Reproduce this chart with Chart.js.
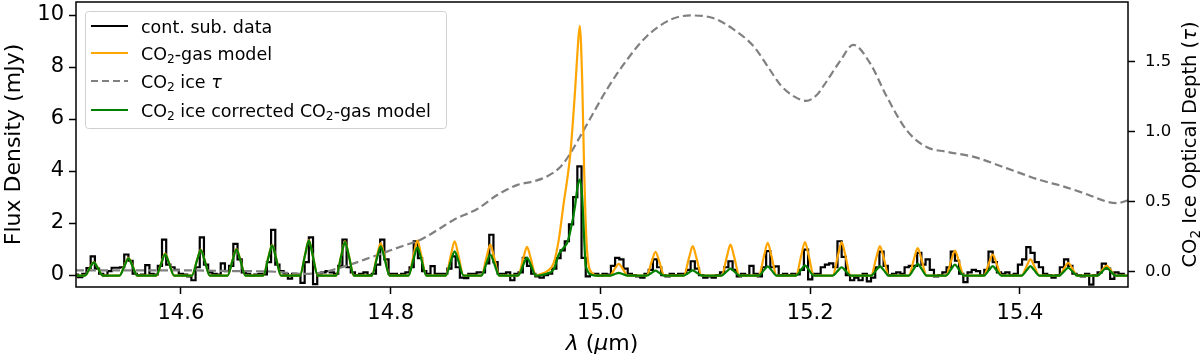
<!DOCTYPE html>
<html>
<head>
<meta charset="utf-8">
<script src="https://cdn.jsdelivr.net/npm/chart.js@4.4.1/dist/chart.umd.min.js"></script>
<style>
  body { margin: 0; background: #fff; }
  canvas { display: block; }
</style>
</head>
<body>
<canvas id="spectrum" width="1200" height="358"></canvas>
<script>
// ---- continuum subtracted data (step plot) ----
const dataWl = [
  14.500,14.504,14.508,14.512,14.516,14.520,14.524,14.528,14.532,14.536,
  14.540,14.544,14.548,14.552,14.556,14.560,14.564,14.568,14.572,14.576,
  14.580,14.584,14.588,14.592,14.596,14.600,14.604,14.608,14.612,14.616,
  14.620,14.624,14.628,14.632,14.636,14.640,14.644,14.648,14.652,14.656,
  14.660,14.664,14.668,14.672,14.676,14.680,14.684,14.688,14.692,14.696,
  14.700,14.704,14.708,14.712,14.716,14.720,14.724,14.728,14.732,14.736,
  14.740,14.744,14.748,14.752,14.756,14.760,14.764,14.768,14.772,14.776,
  14.780,14.784,14.788,14.792,14.796,14.800,14.804,14.808,14.812,14.816,
  14.820,14.824,14.828,14.832,14.836,14.840,14.844,14.848,14.852,14.856,
  14.860,14.864,14.868,14.872,14.876,14.880,14.884,14.888,14.892,14.896,
  14.900,14.904,14.908,14.912,14.916,14.920,14.924,14.928,14.932,14.936,
  14.940,14.944,14.948,14.952,14.956,14.960,14.964,14.968,14.972,14.976,
  14.980,14.984,14.988,14.992,14.996,15.000,15.004,15.008,15.012,15.016,
  15.020,15.024,15.028,15.032,15.036,15.040,15.044,15.048,15.052,15.056,
  15.060,15.064,15.068,15.072,15.076,15.080,15.084,15.088,15.092,15.096,
  15.100,15.104,15.108,15.112,15.116,15.120,15.124,15.128,15.132,15.136,
  15.140,15.144,15.148,15.152,15.156,15.160,15.164,15.168,15.172,15.176,
  15.180,15.184,15.188,15.192,15.196,15.200,15.204,15.208,15.212,15.216,
  15.220,15.224,15.228,15.232,15.236,15.240,15.244,15.248,15.252,15.256,
  15.260,15.264,15.268,15.272,15.276,15.280,15.284,15.288,15.292,15.296,
  15.300,15.304,15.308,15.312,15.316,15.320,15.324,15.328,15.332,15.336,
  15.340,15.344,15.348,15.352,15.356,15.360,15.364,15.368,15.372,15.376,
  15.380,15.384,15.388,15.392,15.396,15.400,15.404,15.408,15.412,15.416,
  15.420,15.424,15.428,15.432,15.436,15.440,15.444,15.448,15.452,15.456,
  15.460,15.464,15.468,15.472,15.476,15.480,15.484,15.488,15.492,15.496,
  15.500
];
const dataFlux = [
  0.02, -0.08, 0.05, 0.27, 0.72, 0.25, 0.05, -0.02, 0.15, 0.28,
  0.28, 0.3, 0.79, 0.55, 0.05, 0.0, 0.02, 0.38, 0.05, 0.02,
  0.35, 1.36, 0.4, 0.3, 0.2, 0.05, 0.02, -0.05, -0.2, 0.3,
  1.45, 0.4, 0.1, 0.05, 0.02, 0.45, 0.15, 0.35, 1.2, 0.6,
  0.1, 0.05, -0.02, 0.02, 0.05, 0.02, 0.5, 1.74, 0.4, 0.15,
  0.05, -0.14, 0.05, 0.0, -0.3, 0.5, 1.45, -0.35, 0.05, 0.1,
  0.15, 0.1, 0.05, 0.35, 1.36, 0.3, 0.1, 0.0, 0.05, 0.1,
  0.0, 0.05, 0.4, 1.36, 0.6, 0.05, 0.05, 0.0, 0.05, 0.1,
  0.3, 1.3, 0.65, 0.15, 0.05, 0.34, 0.05, 0.05, 0.05, 0.25,
  0.72, 0.3, -0.1, -0.12, 0.05, 0.05, 0.1, 0.1, 0.45, 1.55,
  0.5, 0.05, 0.05, 0.1, -0.2, 0.05, 0.1, 0.66, 0.35, 0.05,
  -0.05, -0.1, 0.0, 0.05, 0.25, 0.65, 0.95, 1.3, 1.95, 3.0,
  4.18, 0.66, -0.05, 0.02, 0.05, -0.02, 0.05, 0.02, 0.35, 0.66,
  0.6, 0.25, 0.05, 0.0, -0.05, -0.1, 0.05, 0.2, 0.6, 0.3,
  0.0, -0.05, 0.05, 0.0, 0.05, 0.05, 0.2, 0.53, 0.25, 0.0,
  -0.1, -0.05, -0.1, 0.0, 0.1, 0.3, 0.53, 0.2, -0.05, 0.05,
  0.0, 0.35, 0.05, -0.05, 0.3, 0.92, 0.3, 0.33, 0.0, 0.05,
  0.0, 0.05, 0.02, 0.2, 0.98, -0.17, 0.05, 0.05, 0.3, 0.4,
  0.45, 0.3, 1.3, 0.7, 0.0, -0.2, -0.1, -0.2, 0.05, -0.24,
  -0.1, 0.3, 0.9, 0.35, 0.0, 0.05, 0.1, 0.05, 0.3, 0.35,
  0.35, 0.85, 0.4, 0.6, 0.2, -0.05, 0.0, 0.1, 0.3, 0.9,
  0.55, 0.05, -0.27, 0.1, 0.2, 0.15, 0.0, 0.2, 0.9, 0.5,
  0.1, 0.05, 0.1, 0.0, 0.05, 0.4, 0.6, 1.07, 0.85, 0.5,
  0.3, 0.05, 0.0, -0.1, 0.0, 0.3, 0.6, 0.35, 0.05, 0.0,
  -0.05, 0.05, -0.37, 0.0, 0.1, 0.44, 0.25, -0.15, 0.1, 0.05,
  0.05
];

// ---- gas model and ice corrected model (shared wavelength points) ----
const modelWl = [
  14.500,
  14.5085, 14.5135, 14.517, 14.5205, 14.5255,
  14.5415, 14.5465, 14.550, 14.5535, 14.5585,
  14.5765, 14.5815, 14.585, 14.5885, 14.5935,
  14.6105, 14.6155, 14.619, 14.6225, 14.6275,
  14.6445, 14.6495, 14.653, 14.6565, 14.6615,
  14.6785, 14.6835, 14.687, 14.6905, 14.6955,
  14.7135, 14.7185, 14.722, 14.7255, 14.7305,
  14.748, 14.753, 14.7565, 14.760, 14.765,
  14.782, 14.787, 14.7905, 14.794, 14.799,
  14.817, 14.822, 14.8255, 14.829, 14.834,
  14.8525, 14.8575, 14.861, 14.8645, 14.8695,
  14.8865, 14.8915, 14.895, 14.8985, 14.9035,
  14.9215, 14.9265, 14.930, 14.9335, 14.9385,
  14.944, 14.949, 14.9555, 14.9603, 14.965, 14.9683, 14.9714, 14.976, 14.978,
  14.9803, 14.9826, 14.9845, 14.9857, 14.9873, 14.9889, 14.992, 14.996,
  15.009, 15.014, 15.0175, 15.021, 15.026,
  15.044, 15.049, 15.0525, 15.056, 15.061,
  15.0795, 15.0845, 15.088, 15.0915, 15.0965,
  15.1155, 15.1205, 15.124, 15.1275, 15.1325,
  15.151, 15.156, 15.1595, 15.163, 15.168,
  15.1865, 15.1915, 15.195, 15.1985, 15.2035,
  15.2215, 15.2265, 15.230, 15.2335, 15.2385,
  15.258, 15.263, 15.2665, 15.270, 15.275,
  15.294, 15.299, 15.3025, 15.306, 15.311,
  15.3295, 15.3345, 15.338, 15.3415, 15.3465,
  15.3655, 15.3705, 15.374, 15.3775, 15.3825,
  15.4015, 15.4065, 15.410, 15.4135, 15.4185,
  15.4375, 15.4425, 15.446, 15.4495, 15.4545,
  15.474, 15.479, 15.4825, 15.486, 15.491,
  15.503
];
const gasFlux = [
  -0.02,
  -0.02, 0.30, 0.50, 0.30, -0.02,
  -0.02, 0.40, 0.66, 0.40, -0.02,
  -0.02, 0.49, 0.82, 0.49, -0.02,
  -0.02, 0.59, 0.98, 0.59, -0.02,
  -0.02, 0.61, 1.01, 0.61, -0.02,
  -0.02, 0.70, 1.16, 0.70, -0.02,
  -0.02, 0.80, 1.34, 0.80, -0.02,
  -0.02, 0.78, 1.30, 0.78, -0.02,
  -0.02, 0.74, 1.23, 0.74, -0.02,
  -0.02, 0.79, 1.32, 0.79, -0.02,
  -0.02, 0.78, 1.30, 0.78, -0.02,
  -0.02, 0.70, 1.17, 0.70, -0.02,
  -0.02, 0.65, 1.08, 0.65, -0.02,
  0.05, 0.14, 0.47, 1.36, 2.77, 3.67, 4.7, 7.2, 8.5,
  9.58, 7.5, 4.0, 2.3, 0.9, 0.34, 0.08, -0.02,
  -0.02, 0.26, 0.43, 0.26, -0.02,
  -0.02, 0.53, 0.89, 0.53, -0.02,
  -0.02, 0.67, 1.11, 0.67, -0.02,
  -0.02, 0.70, 1.17, 0.70, -0.02,
  -0.02, 0.74, 1.24, 0.74, -0.02,
  -0.02, 0.76, 1.27, 0.76, -0.02,
  -0.02, 0.76, 1.27, 0.76, -0.02,
  -0.02, 0.67, 1.11, 0.67, -0.02,
  -0.02, 0.62, 1.04, 0.62, -0.02,
  -0.02, 0.56, 0.94, 0.56, -0.02,
  -0.02, 0.47, 0.79, 0.47, -0.02,
  -0.02, 0.36, 0.60, 0.36, -0.02,
  -0.02, 0.28, 0.47, 0.28, -0.02,
  -0.02, 0.22, 0.36, 0.22, -0.02,
  -0.02
];
const corrFlux = [
  -0.02,
  -0.02, 0.29, 0.49, 0.29, -0.02,
  -0.02, 0.38, 0.64, 0.38, -0.02,
  -0.02, 0.48, 0.80, 0.48, -0.02,
  -0.02, 0.58, 0.96, 0.58, -0.02,
  -0.02, 0.59, 0.99, 0.59, -0.02,
  -0.02, 0.68, 1.14, 0.68, -0.02,
  -0.02, 0.79, 1.32, 0.79, -0.02,
  -0.02, 0.76, 1.27, 0.76, -0.02,
  -0.02, 0.66, 1.10, 0.66, -0.02,
  -0.02, 0.64, 1.06, 0.64, -0.02,
  -0.02, 0.55, 0.91, 0.55, -0.02,
  -0.02, 0.47, 0.79, 0.47, -0.02,
  -0.02, 0.40, 0.66, 0.40, -0.02,
  0.0, 0.05, 0.22, 0.79, 1.05, 1.24, 1.7, 2.7, 3.35,
  3.67, 3.0, 1.4, 0.47, 0.2, 0.08, 0.0, -0.02,
  -0.02, 0.04, 0.08, 0.04, -0.02,
  -0.02, 0.09, 0.17, 0.09, -0.02,
  -0.02, 0.10, 0.18, 0.10, -0.02,
  -0.02, 0.14, 0.25, 0.14, -0.02,
  -0.02, 0.19, 0.33, 0.19, -0.02,
  -0.02, 0.21, 0.37, 0.21, -0.02,
  -0.02, 0.17, 0.30, 0.17, -0.02,
  -0.02, 0.19, 0.34, 0.19, -0.02,
  -0.02, 0.25, 0.43, 0.25, -0.02,
  -0.02, 0.23, 0.40, 0.23, -0.02,
  -0.02, 0.19, 0.34, 0.19, -0.02,
  -0.02, 0.19, 0.34, 0.19, -0.02,
  -0.02, 0.16, 0.28, 0.16, -0.02,
  -0.02, 0.16, 0.28, 0.16, -0.02,
  -0.02
];

// ---- CO2 ice optical depth (right axis) ----
const tauWl = [
  14.500, 14.550, 14.600, 14.650, 14.690, 14.715, 14.735, 14.750, 14.765, 14.780,
  14.795, 14.810, 14.829, 14.845, 14.860, 14.883, 14.902, 14.921, 14.936, 14.949,
  14.962, 14.970, 14.984, 15.006, 15.025, 15.044, 15.067, 15.086, 15.108, 15.127,
  15.146, 15.160, 15.172, 15.185, 15.196, 15.206, 15.213, 15.229, 15.241, 15.257,
  15.273, 15.292, 15.311, 15.330, 15.356, 15.387, 15.419, 15.441, 15.465, 15.483,
  15.492, 15.503
];
const tauVal = [
  0.01, 0.01, 0.01, 0.005, 0.0, -0.015, -0.005, 0.025, 0.06, 0.10,
  0.14, 0.18, 0.23, 0.30, 0.37, 0.45, 0.55, 0.62, 0.645, 0.68,
  0.75, 0.83, 1.01, 1.30, 1.51, 1.68, 1.80, 1.83, 1.81, 1.73,
  1.61, 1.46, 1.33, 1.25, 1.22, 1.26, 1.33, 1.51, 1.62, 1.49,
  1.25, 1.01, 0.89, 0.857, 0.82, 0.74, 0.655, 0.61, 0.55, 0.50,
  0.49, 0.51
];

const xTicks = [14.6, 14.8, 15.0, 15.2, 15.4];
const fluxTicks = [0, 2, 4, 6, 8, 10];
const tauTicks = [0, 0.5, 1.0, 1.5];

const FONT = '"DejaVu Sans"';
const pts = (xs, ys) => xs.map((x, i) => ({ x: x, y: ys[i] }));

// mixed text: ['text', ''] normal, 'i' italic, 's' subscript
function drawRich(ctx, parts, x, y, size, align) {
  const fontOf = (k) => (k === 'i' ? 'italic ' : '') + (k === 's' ? size * 0.7 : size) + 'px ' + FONT;
  let total = 0;
  parts.forEach(([t, k]) => { ctx.font = fontOf(k); total += ctx.measureText(t).width; });
  let cx = align === 'center' ? x - total / 2 : x;
  ctx.textAlign = 'left';
  ctx.textBaseline = 'alphabetic';
  parts.forEach(([t, k]) => {
    ctx.font = fontOf(k);
    ctx.fillText(t, cx, k === 's' ? y + size * 0.2 : y);
    cx += ctx.measureText(t).width;
  });
}

const legendRows = [
  { color: '#000000', dash: [], parts: [['cont. sub. data', '']] },
  { color: '#ffa500', dash: [], parts: [['CO', ''], ['2', 's'], ['-gas model', '']] },
  { color: '#808080', dash: [7, 4], parts: [['CO', ''], ['2', 's'], [' ice ', ''], ['τ', 'i']] },
  { color: '#008000', dash: [], parts: [['CO', ''], ['2', 's'], [' ice corrected CO', ''], ['2', 's'], ['-gas model', '']] }
];

const decor = {
  id: 'decor',
  afterDraw(chart) {
    const ctx = chart.ctx;
    const a = chart.chartArea;
    ctx.save();
    // frame
    ctx.strokeStyle = '#000';
    ctx.lineWidth = 1.5;
    ctx.strokeRect(a.left, a.top, a.right - a.left, a.bottom - a.top);

    // legend box
    ctx.fillStyle = 'rgba(255,255,255,0.8)';
    ctx.strokeStyle = '#d0d0d0';
    ctx.lineWidth = 1;
    ctx.beginPath();
    ctx.roundRect(85.5, 11.5, 361, 117, 3);
    ctx.fill();
    ctx.stroke();
    const rowY = [26, 53, 81, 110];
    legendRows.forEach((r, i) => {
      ctx.strokeStyle = r.color;
      ctx.lineWidth = 2.2;
      ctx.setLineDash(r.dash);
      ctx.beginPath();
      ctx.moveTo(91, rowY[i]);
      ctx.lineTo(128, rowY[i]);
      ctx.stroke();
      ctx.setLineDash([]);
      ctx.fillStyle = '#000';
      drawRich(ctx, r.parts, 141, rowY[i] + 6.5, 17.5, 'left');
    });

    // axis titles
    ctx.fillStyle = '#000';
    drawRich(ctx, [['λ', 'i'], [' (', ''], ['μ', 'i'], ['m)', '']], (a.left + a.right) / 2, 350, 22, 'center');

    ctx.save();
    ctx.translate(20, (a.top + a.bottom) / 2);
    ctx.rotate(-Math.PI / 2);
    drawRich(ctx, [['Flux Density (mJy)', '']], 0, 0, 22, 'center');
    ctx.restore();

    ctx.save();
    ctx.translate(1196, (a.top + a.bottom) / 2);
    ctx.rotate(-Math.PI / 2);
    drawRich(ctx, [['CO', ''], ['2', 's'], [' Ice Optical Depth (', ''], ['τ', 'i'], [')', '']], 0, 0, 19.5, 'center');
    ctx.restore();

    ctx.restore();
  }
};

const tickGrid = { drawOnChartArea: false, drawTicks: true, tickLength: 7, tickWidth: 1.5, tickColor: '#000' };
const noPad = (s) => { s.paddingTop = 0; s.paddingBottom = 0; s.paddingLeft = 0; s.paddingRight = 0; };

new Chart(document.getElementById('spectrum'), {
  type: 'line',
  data: {
    datasets: [
      {
        label: 'CO2 ice corrected CO2-gas model',
        data: pts(modelWl, corrFlux),
        borderColor: '#008000', borderWidth: 2.2, pointRadius: 0,
        cubicInterpolationMode: 'monotone', yAxisID: 'y', order: 0
      },
      {
        label: 'CO2-gas model',
        data: pts(modelWl, gasFlux),
        borderColor: '#ffa500', borderWidth: 2.2, pointRadius: 0,
        cubicInterpolationMode: 'monotone', yAxisID: 'y', order: 1
      },
      {
        label: 'CO2 ice tau',
        data: pts(tauWl, tauVal),
        borderColor: '#808080', borderWidth: 2.2, borderDash: [8, 4], pointRadius: 0,
        cubicInterpolationMode: 'monotone', yAxisID: 'y2', order: 2
      },
      {
        label: 'cont. sub. data',
        data: pts(dataWl, dataFlux),
        borderColor: '#000000', borderWidth: 2.2, pointRadius: 0,
        stepped: 'middle', yAxisID: 'y', order: 3
      }
    ]
  },
  options: {
    responsive: false,
    animation: false,
    devicePixelRatio: 1,
    layout: { padding: { top: 2, left: 0, right: 0, bottom: 0 } },
    plugins: { legend: { display: false }, tooltip: { enabled: false } },
    scales: {
      x: {
        type: 'linear', position: 'bottom', min: 14.5, max: 15.503,
        afterBuildTicks: (s) => { s.ticks = xTicks.map(v => ({ value: v })); },
        afterFit: (s) => { s.height = 71; noPad(s); },
        ticks: { color: '#000', font: { family: 'DejaVu Sans', size: 21 }, padding: 7, maxRotation: 0,
                 callback: (v) => v.toFixed(1) },
        grid: tickGrid, border: { display: false }
      },
      y: {
        type: 'linear', position: 'left', min: -0.46, max: 10.5,
        afterBuildTicks: (s) => { s.ticks = fluxTicks.map(v => ({ value: v })); },
        afterFit: (s) => { s.width = 76; noPad(s); },
        ticks: { color: '#000', font: { family: 'DejaVu Sans', size: 21 }, padding: 5,
                 callback: (v) => String(v) },
        grid: tickGrid, border: { display: false }
      },
      y2: {
        type: 'linear', position: 'right', min: -0.109, max: 1.926,
        afterBuildTicks: (s) => { s.ticks = tauTicks.map(v => ({ value: v })); },
        afterFit: (s) => { s.width = 72; noPad(s); },
        ticks: { color: '#000', font: { family: 'DejaVu Sans', size: 16.5 }, padding: 10,
                 callback: (v) => v.toFixed(1) },
        grid: tickGrid, border: { display: false }
      }
    }
  },
  plugins: [decor]
});
</script>
</body>
</html>
